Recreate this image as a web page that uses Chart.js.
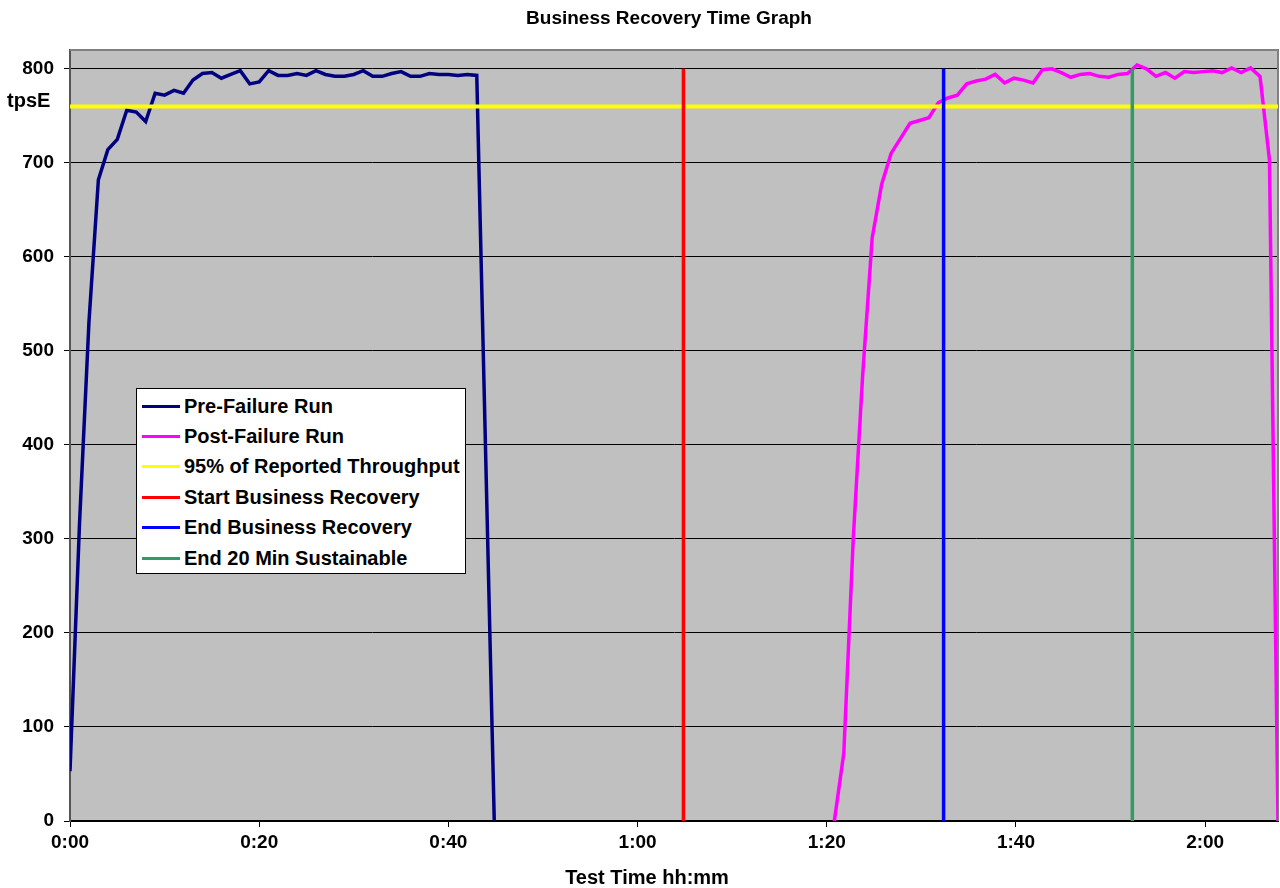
<!DOCTYPE html>
<html>
<head>
<meta charset="utf-8">
<title>Business Recovery Time Graph</title>
<script src="https://cdn.jsdelivr.net/npm/chart.js"></script>
<style>
  html, body { margin: 0; padding: 0; background: #fff; }
  #wrap { position: relative; width: 1280px; height: 888px; }
  #legend {
    position: absolute; left: 136px; top: 388px; width: 328px; height: 182px;
    background: #fff; border: 1px solid #000; box-sizing: content-box;
    font-family: "Liberation Sans", Arial, sans-serif; font-weight: bold; font-size: 20px;
    color: #000; padding-top: 2px;
  }
  .item { height: 30.4px; display: flex; align-items: center; white-space: nowrap; }
  .swatch { width: 38px; height: 3px; margin-left: 5px; margin-right: 4px; }
</style>
</head>
<body>
<div id="wrap">
  <canvas id="c" width="1280" height="888"></canvas>
  <div id="legend"></div>
</div>
<script>
// ---- data (minutes, tpsE) ----
const preTime = [0,1,2,3,4,5,6,7,8,9,10,11,12,13,14,15,16,17,18,19,20,21,22,23,24,25,26,27,28,29,30,31,32,33,34,35,36,37,38,39,40,41,42,43,44.85];
const preTps  = [53,315,530,682,714,725,756,754,744,774,772,777,774,788,795,796,790,794,798,784,786,798,793,793,795,793,798,794,792,792,794,798,792,792,795,797,792,792,795,794,794,793,794,793,0];

const postTime = [80.8,81.8,82.8,83.8,84.8,85.8,86.8,87.8,88.8,89.8,90.8,91.8,92.8,93.8,94.8,95.8,96.8,97.8,98.8,99.8,100.8,101.8,102.8,103.8,104.8,105.8,106.8,107.8,108.8,109.8,110.8,111.8,112.8,113.8,114.8,115.8,116.8,117.8,118.8,119.8,120.8,121.8,122.8,123.8,124.8,125.8,126.8,127.7];
const postTps  = [0,72,300,475,620,677,710,726,742,745,748,764,769,772,784,787,789,794,785,790,788,785,799,800,796,791,794,795,792,791,794,795,804,800,792,796,790,797,796,797,798,796,801,796,801,792,703,0];

const threshold = 760;          // 95% of reported throughput
const startRecovery = 64.85;    // minutes
const endRecovery = 92.35;
const endSustainable = 112.3;
const markerTop = 800;

const xMin = 0, xMax = 127.7, xStep = 20;
const yMin = 0, yMax = 820, yStep = 100;

const seriesNames = ["Pre-Failure Run","Post-Failure Run","95% of Reported Throughput","Start Business Recovery","End Business Recovery","End 20 Min Sustainable"];
const seriesColors = ["#000080","#FF00FF","#FFFF00","#FF0000","#0000FF","#339966"];
const seriesWidths = [3.5, 3.5, 4, 3.5, 3.5, 3.5];

const chartTitle = "Business Recovery Time Graph";
const xTitle = "Test Time hh:mm";
const yTitle = "tpsE";

// ---- build ----
const FONT = '"Liberation Sans", Arial, sans-serif';
const pts = (xs, ys) => xs.map((x, i) => ({ x: x, y: ys[i] }));
const vline = (x) => [{ x: x, y: 0 }, { x: x, y: markerTop }];

const seriesData = [
  pts(preTime, preTps),
  pts(postTime, postTps),
  [{ x: xMin, y: threshold }, { x: xMax, y: threshold }],
  vline(startRecovery),
  vline(endRecovery),
  vline(endSustainable)
];

const datasets = seriesData.map((d, i) => ({
  label: seriesNames[i],
  data: d,
  borderColor: seriesColors[i],
  backgroundColor: seriesColors[i],
  borderWidth: seriesWidths[i],
  showLine: true,
  pointRadius: 0,
  pointHoverRadius: 0,
  tension: 0,
  fill: false,
  order: seriesData.length - i
}));

function fmtTime(v) {
  const h = Math.floor(v / 60);
  const m = Math.round(v - h * 60);
  return h + ':' + (m < 10 ? '0' : '') + m;
}

const decor = {
  id: 'decor',
  beforeDraw(chart) {
    const { ctx, chartArea: a } = chart;
    ctx.save();
    ctx.fillStyle = '#fff';
    ctx.fillRect(0, 0, chart.width, chart.height);
    ctx.fillStyle = '#C0C0C0';
    ctx.fillRect(a.left, a.top, a.right - a.left, a.bottom - a.top);
    ctx.restore();
  },
  beforeDatasetsDraw(chart) {
    const { ctx, chartArea: a } = chart;
    ctx.save();
    ctx.strokeStyle = '#808080';
    ctx.lineWidth = 2;
    ctx.beginPath();
    ctx.moveTo(a.left, a.top);
    ctx.lineTo(a.right, a.top);
    ctx.lineTo(a.right, a.bottom);
    ctx.stroke();
    ctx.restore();
  },
  afterDraw(chart) {
    const { ctx } = chart;
    ctx.save();
    ctx.fillStyle = '#000';
    ctx.textBaseline = 'middle';
    ctx.textAlign = 'center';
    ctx.font = 'bold 19px ' + FONT;
    ctx.fillText(chartTitle, 669, 19);
    ctx.font = 'bold 20px ' + FONT;
    ctx.fillText(xTitle, 647, 878);
    ctx.textAlign = 'left';
    ctx.font = 'bold 20px ' + FONT;
    ctx.fillText(yTitle, 7, 101);
    ctx.restore();
  }
};

const chart = new Chart(document.getElementById('c'), {
  type: 'scatter',
  data: { datasets: datasets },
  options: {
    responsive: false,
    animation: false,
    events: [],
    layout: { padding: { top: 50, right: 2, left: 0, bottom: 0 } },
    plugins: { legend: { display: false }, title: { display: false }, tooltip: { enabled: false } },
    scales: {
      x: {
        type: 'linear', min: xMin, max: xMax,
        ticks: { stepSize: xStep, includeBounds: false, autoSkip: false, maxRotation: 0,
                 color: '#000', font: { family: FONT, size: 19, weight: 'bold' }, padding: 4,
                 callback: (v) => fmtTime(v) },
        grid: { drawOnChartArea: false, drawTicks: true, tickLength: 6, color: '#000', lineWidth: 1 },
        border: { display: true, color: '#000', width: 2 },
        afterFit(s) { s.height = 67; }
      },
      y: {
        min: yMin, max: yMax,
        ticks: { stepSize: yStep, includeBounds: false, color: '#000',
                 font: { family: FONT, size: 19, weight: 'bold' }, padding: 10 },
        grid: { color: '#000', lineWidth: 1, drawTicks: true, tickLength: 6 },
        border: { display: true, color: '#555', width: 2 },
        afterFit(s) { s.width = 70; }
      }
    }
  },
  plugins: [decor]
});

// HTML legend from the datasets
const leg = document.getElementById('legend');
chart.data.datasets.forEach(ds => {
  const row = document.createElement('div');
  row.className = 'item';
  const sw = document.createElement('span');
  sw.className = 'swatch';
  sw.style.background = ds.borderColor;
  const tx = document.createElement('span');
  tx.textContent = ds.label;
  row.appendChild(sw);
  row.appendChild(tx);
  leg.appendChild(row);
});
</script>
</body>
</html>
